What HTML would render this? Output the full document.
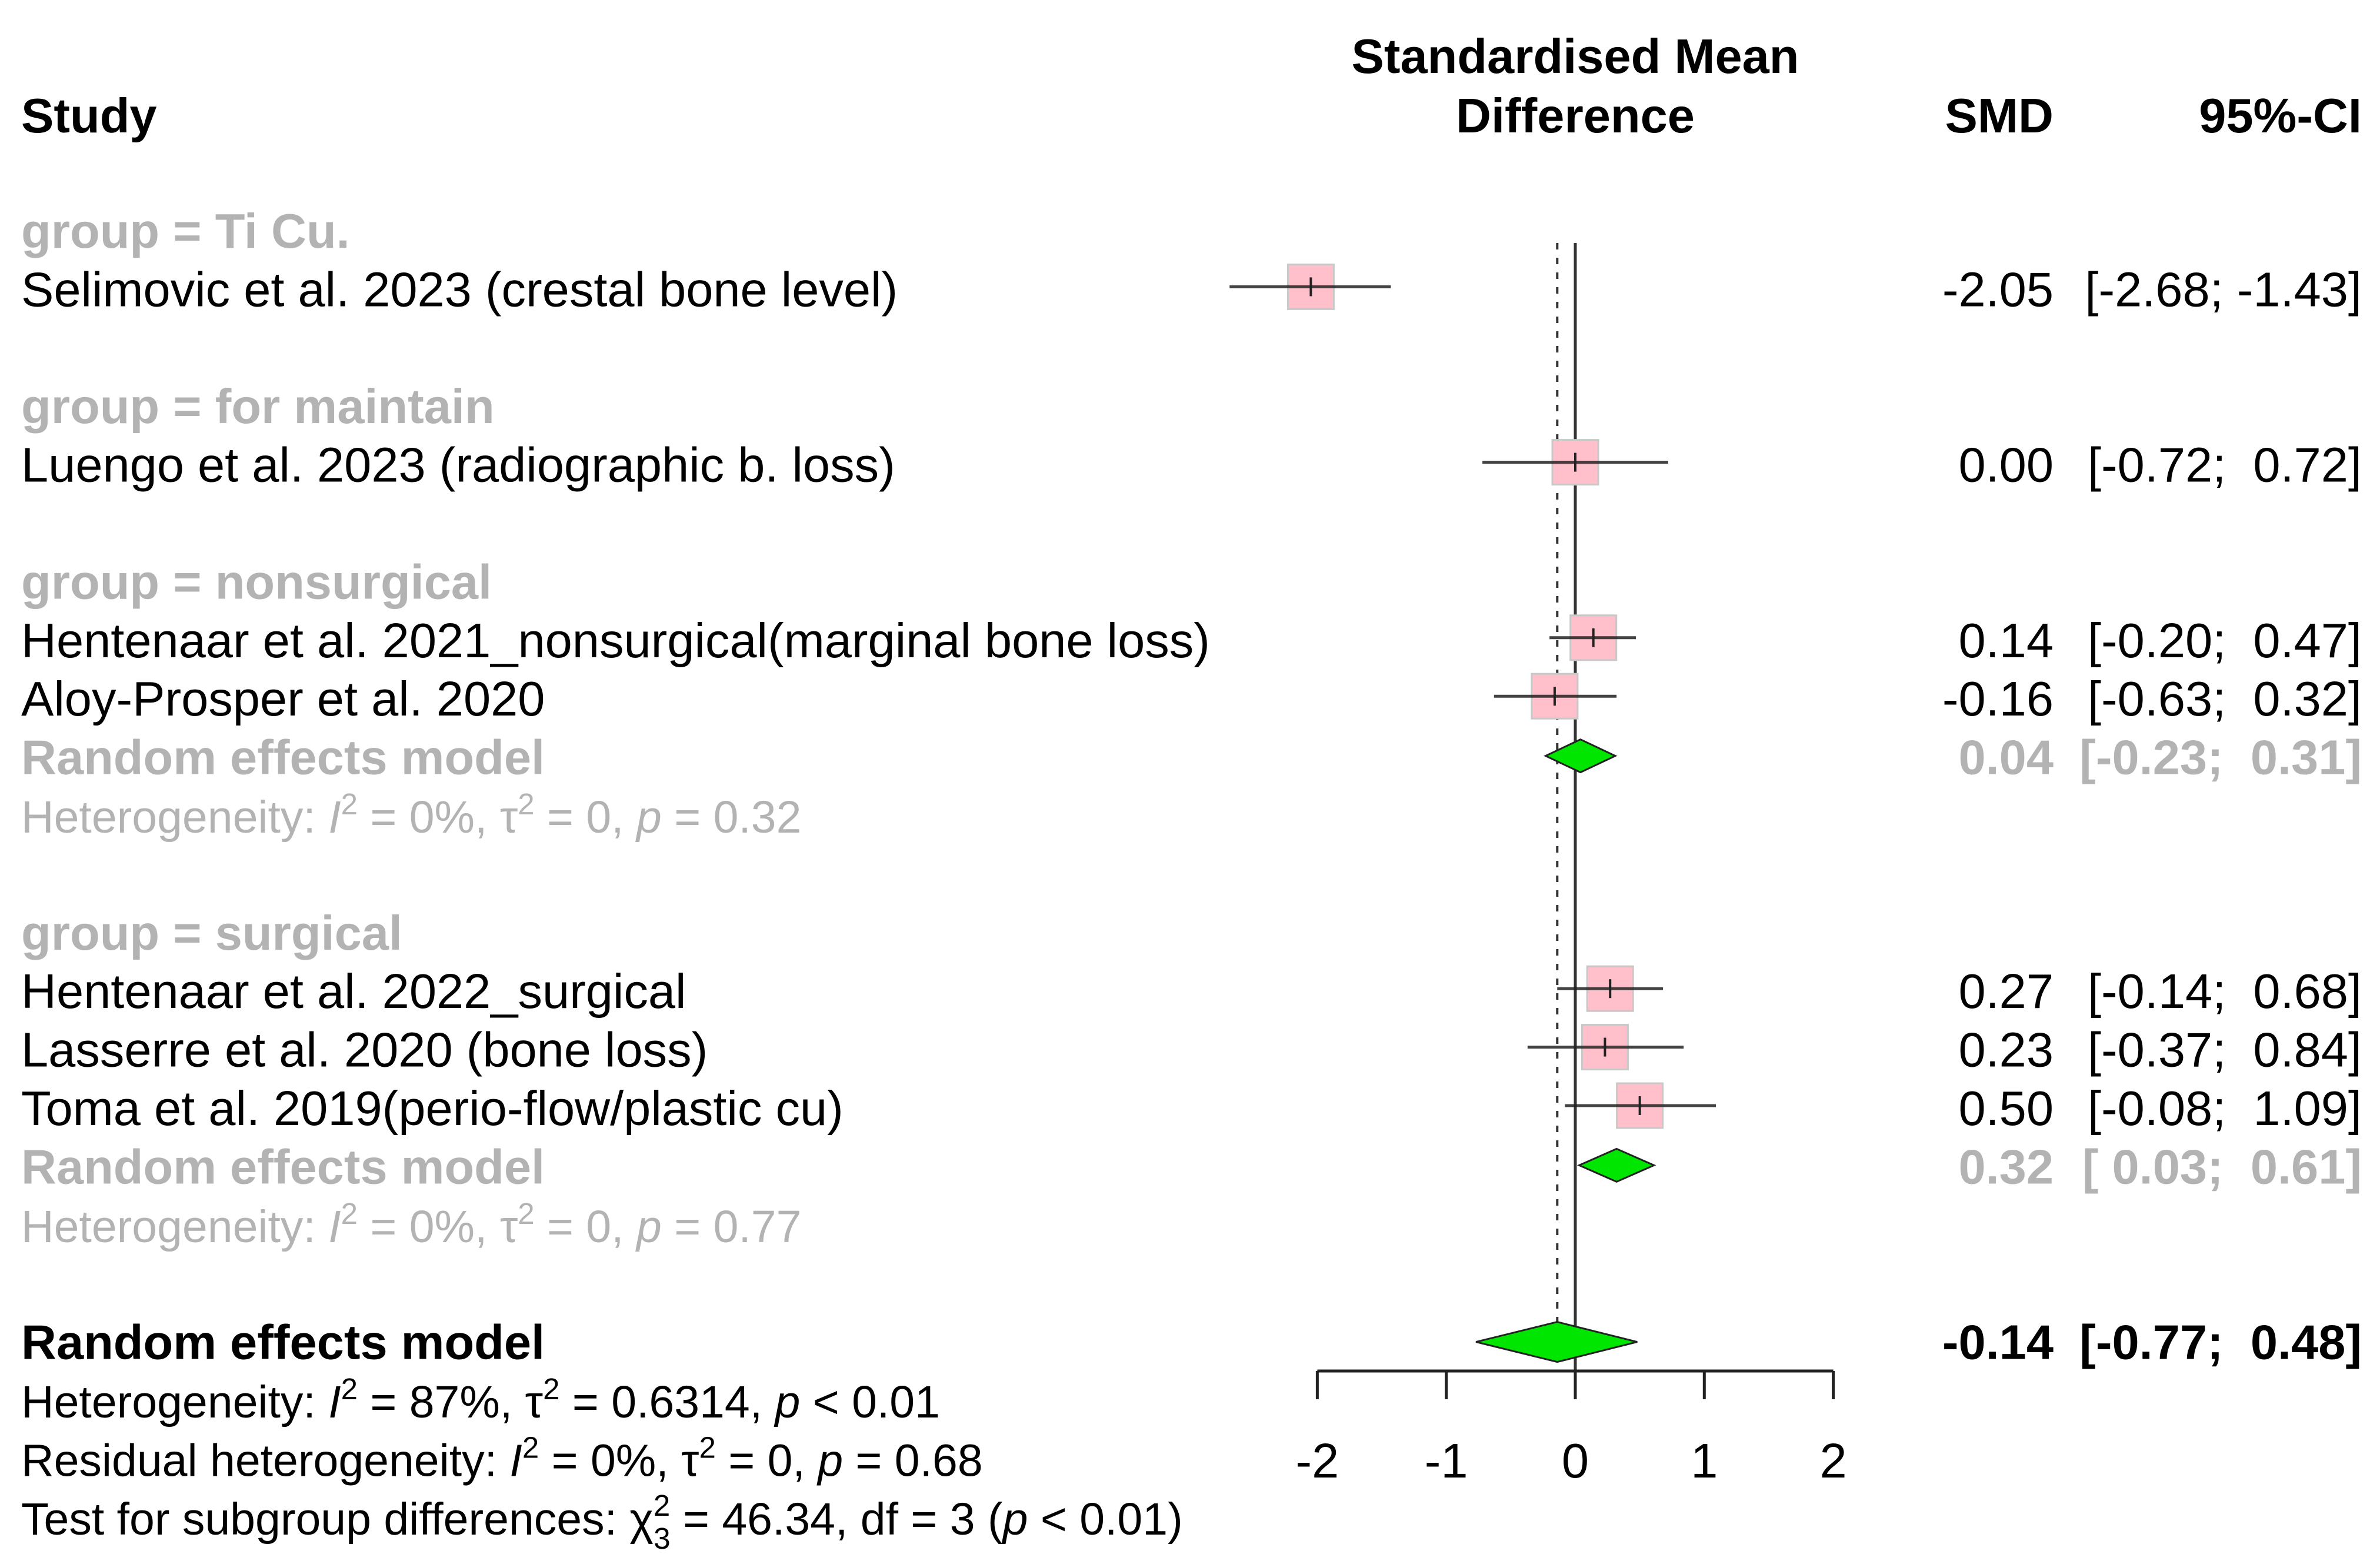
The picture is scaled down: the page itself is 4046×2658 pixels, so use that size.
<!DOCTYPE html>
<html><head><meta charset="utf-8"><style>
html,body{margin:0;padding:0;background:#fff;}
svg{display:block;font-family:"Liberation Sans",Arial,sans-serif;}
</style></head><body>
<svg id="chart" width="4046" height="2658" viewBox="0 0 4046 2658" xmlns="http://www.w3.org/2000/svg">
<g id="txt" font-size="83"></g>
<g id="marks"></g>
</svg>
<script>
const studyLabels = ["Selimovic et al. 2023 (crestal bone level)","Luengo et al. 2023 (radiographic b. loss)","Hentenaar et al. 2021_nonsurgical(marginal bone loss)","Aloy-Prosper et al. 2020","Hentenaar et al. 2022_surgical","Lasserre et al. 2020 (bone loss)","Toma et al. 2019(perio-flow/plastic cu)"];
const studyRows = [1,4,7,8,13,14,15];
const studySmd = [-2.05,0.00,0.14,-0.16,0.27,0.23,0.50];
const studyLo = [-2.68,-0.72,-0.20,-0.63,-0.14,-0.37,-0.08];
const studyHi = [-1.43,0.72,0.47,0.32,0.68,0.84,1.09];
const groupLabels = ["group = Ti Cu.","group = for maintain","group = nonsurgical","group = surgical"];
const groupRows = [0,3,6,12];
const subRows = [9,16];
const subSmd = [0.04,0.32];
const subLo = [-0.23,0.03];
const subHi = [0.31,0.61];
const subHet = [["0%","0","0.32"],["0%","0","0.77"]];
const overallSmd = -0.14, overallLo = -0.77, overallHi = 0.48;
const overallRow = 19;
const ticks = [-2,-1,0,1,2];

const NS="http://www.w3.org/2000/svg";
const X0=2678, PX=219.3;
const xs = v => X0 + PX*v;
const rowY = k => 392 + 99.4*k;
const txt=document.getElementById('txt'), marks=document.getElementById('marks');
const GREY="#b3b3b3";
const BO=29;
function el(tag,attrs,parent){const e=document.createElementNS(NS,tag);for(const k in attrs)e.setAttribute(k,attrs[k]);parent.appendChild(e);return e;}
function text(s,x,y,opts,name){const t=el('text',{x:x,y:y+BO},txt);t.textContent=s;if(opts.anchor)t.setAttribute('text-anchor',opts.anchor);if(opts.bold)t.setAttribute('font-weight','bold');t.setAttribute('fill',opts.fill||'#000');t.style.whiteSpace='pre';


return t;}
const f2 = v => v.toFixed(2);
const ciFmt = (lo,hi) => '['+(lo<0?f2(lo):' '+f2(lo))+'; '+(hi<0?f2(hi):' '+f2(hi))+']';

text("Standardised Mean",X0,95,{anchor:'middle',bold:true},'x-axis-title-line1');
text("Difference",X0,196,{anchor:'middle',bold:true},'x-axis-title-line2');
text("Study",36,196,{bold:true},'study-header');
text("SMD",3491,196,{anchor:'end',bold:true},'smd-header');
text("95%-CI",4015,196,{anchor:'end',bold:true},'ci-header');

const vl=el('line',{x1:xs(0),x2:xs(0),y1:413,y2:2330,stroke:'#333','stroke-width':5},marks);


const dl=el('line',{x1:xs(overallSmd),x2:xs(overallSmd),y1:413,y2:2310,stroke:'#333','stroke-width':4,'stroke-dasharray':'11 14'},marks);



groupLabels.forEach((g,i)=>{text(g,36,rowY(groupRows[i]),{bold:true,fill:GREY},'group-label');});

studyLabels.forEach((s,i)=>{
  const y=rowY(studyRows[i]);
  text(s,36,y,{},'study-label');
  text(f2(studySmd[i]),3491,y,{anchor:'end'},'study-smd');
  text(ciFmt(studyLo[i],studyHi[i]),4015,y,{anchor:'end'},'study-ci');
  const b=el('rect',{x:xs(studySmd[i])-39,y:y-42,width:78,height:76,fill:'#ffc0cb',stroke:'#c8c8c8','stroke-width':3},marks);
  
  
  const ci=el('line',{x1:xs(studyLo[i]),x2:xs(studyHi[i]),y1:y-4,y2:y-4,stroke:'#222','stroke-width':5,'stroke-opacity':0.85},marks);
  
  
  const m=el('line',{x1:xs(studySmd[i]),x2:xs(studySmd[i]),y1:y-20,y2:y+12,stroke:'#222','stroke-width':4},marks);
  
  
});

function het(y,vals,fill,name){
  const t=el('text',{x:36,y:y+BO,fill:fill,'font-size':77},txt);
  
  
  t.innerHTML='Heterogeneity: <tspan font-style="italic">I</tspan><tspan dy="-31" font-size="51">2</tspan><tspan dy="31"> = '+vals[0]+', τ</tspan><tspan dy="-31" font-size="51">2</tspan><tspan dy="31"> = '+vals[1]+', </tspan><tspan font-style="italic">p</tspan> '+(vals[2].startsWith('<')?'':'= ')+vals[2];
}

subRows.forEach((r,i)=>{
  const y=rowY(r);
  text("Random effects model",36,y,{bold:true,fill:GREY},'subgroup-model-label');
  text(f2(subSmd[i]),3491,y,{anchor:'end',bold:true,fill:GREY},'subgroup-smd');
  text(ciFmt(subLo[i],subHi[i]),4015,y,{anchor:'end',bold:true,fill:GREY},'subgroup-ci');
  const d=el('polygon',{points:[xs(subLo[i])+','+(y-2),xs(subSmd[i])+','+(y-30),xs(subHi[i])+','+(y-2),xs(subSmd[i])+','+(y+26)].join(' '),fill:'#00e600',stroke:'#222','stroke-width':3},marks);
  
  
  het(rowY(r+1),subHet[i],GREY,'subgroup-heterogeneity');
});

const oy=rowY(overallRow);
text("Random effects model",36,oy,{bold:true},'overall-model-label');
text(f2(overallSmd),3491,oy,{anchor:'end',bold:true},'overall-smd');
text(ciFmt(overallLo,overallHi),4015,oy,{anchor:'end',bold:true},'overall-ci');
const od=el('polygon',{points:[xs(overallLo)+','+oy,xs(overallSmd)+','+(oy-34),xs(overallHi)+','+oy,xs(overallSmd)+','+(oy+34)].join(' '),fill:'#00e600',stroke:'#222','stroke-width':3},marks);


het(rowY(overallRow+1),["87%","0.6314","< 0.01"],'#000','overall-heterogeneity');
(function(){const y=rowY(overallRow+2);const t=el('text',{x:36,y:y+BO,fill:'#000','font-size':77},txt);


t.innerHTML='Residual heterogeneity: <tspan font-style="italic">I</tspan><tspan dy="-31" font-size="51">2</tspan><tspan dy="31"> = 0%, τ</tspan><tspan dy="-31" font-size="51">2</tspan><tspan dy="31"> = 0, </tspan><tspan font-style="italic">p</tspan> = 0.68';})();
(function(){const y=rowY(overallRow+3);const t=el('text',{x:36,y:y+BO,fill:'#000','font-size':77},txt);


t.innerHTML='Test for subgroup differences: χ<tspan dy="-32" font-size="51">2</tspan><tspan dx="-28" dy="56" font-size="51">3</tspan><tspan dy="-24"> = 46.34, df = 3 (</tspan><tspan font-style="italic">p</tspan> &lt; 0.01)';})();

const ax=el('line',{x1:xs(ticks[0]),x2:xs(ticks[ticks.length-1]),y1:2330,y2:2330,stroke:'#222','stroke-width':5},marks);


ticks.forEach(t=>{
  const tk=el('line',{x1:xs(t),x2:xs(t),y1:2330,y2:2378,stroke:'#222','stroke-width':5},marks);
  
  
  text(String(t),xs(t),2482,{anchor:'middle'},'x-tick-label');
});
</script>
</body></html>
